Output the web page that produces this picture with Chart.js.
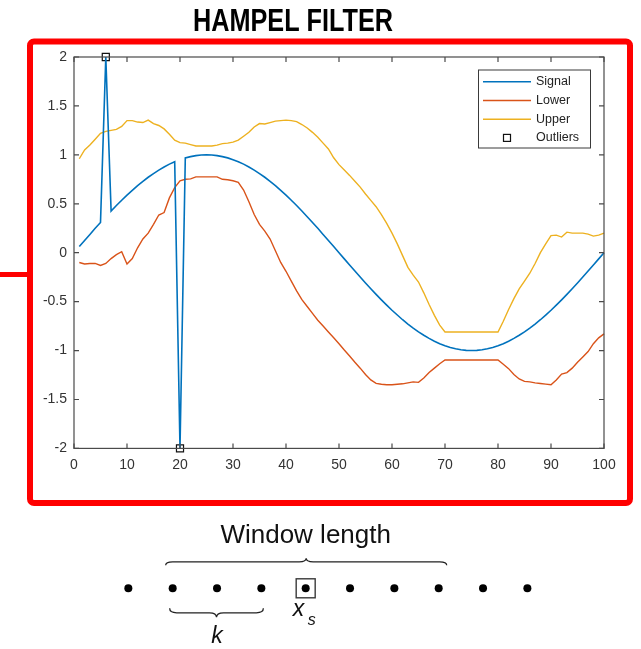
<!DOCTYPE html>
<html>
<head>
<meta charset="utf-8">
<script src="https://cdn.jsdelivr.net/npm/chart.js@4.4.1/dist/chart.umd.min.js"></script>
<style>
  html, body { margin: 0; padding: 0; background: #fff; }
  #wrap { position: relative; width: 641px; height: 649px; overflow: hidden; }
  #main { position: absolute; left: 0; top: 0; }
  #win { position: absolute; left: 0; top: 510px; }
</style>
</head>
<body>
<div id="wrap">
  <canvas id="main" width="641" height="510"></canvas>
  <canvas id="win" width="641" height="139"></canvas>
</div>
<script>
// ---- sample index and series ----
const sampleIdx = Array.from({ length: 100 }, (_, i) => i + 1);

const signal = [
  0.063, 0.125, 0.187, 0.249, 0.309, 2.000, 0.426, 0.482, 0.536, 0.588,
  0.637, 0.685, 0.729, 0.771, 0.809, 0.844, 0.876, 0.905, 0.930, -2.000,
  0.969, 0.982, 0.992, 0.998, 1.000, 0.998, 0.992, 0.982, 0.969, 0.951,
  0.930, 0.905, 0.876, 0.844, 0.809, 0.771, 0.729, 0.685, 0.637, 0.588,
  0.536, 0.482, 0.426, 0.368, 0.309, 0.249, 0.187, 0.125, 0.063, 0.000,
  -0.063, -0.125, -0.187, -0.249, -0.309, -0.368, -0.426, -0.482, -0.536, -0.588,
  -0.637, -0.685, -0.729, -0.771, -0.809, -0.844, -0.876, -0.905, -0.930, -0.951,
  -0.969, -0.982, -0.992, -0.998, -1.000, -0.998, -0.992, -0.982, -0.969, -0.951,
  -0.930, -0.905, -0.876, -0.844, -0.809, -0.771, -0.729, -0.685, -0.637, -0.588,
  -0.536, -0.482, -0.426, -0.368, -0.309, -0.249, -0.187, -0.125, -0.063, 0.000
];

const lower = [
  -0.100, -0.115, -0.110, -0.110, -0.130, -0.110, -0.060, -0.020, 0.010, -0.115,
  -0.060, 0.050, 0.140, 0.200, 0.290, 0.385, 0.410, 0.560, 0.665, 0.735,
  0.750, 0.755, 0.775, 0.775, 0.775, 0.775, 0.775, 0.750, 0.745, 0.735,
  0.720, 0.640, 0.520, 0.390, 0.290, 0.220, 0.140, 0.020, -0.100, -0.190,
  -0.290, -0.390, -0.480, -0.550, -0.620, -0.690, -0.750, -0.810, -0.870, -0.930,
  -0.995, -1.055, -1.120, -1.180, -1.245, -1.300, -1.335, -1.345, -1.350, -1.350,
  -1.345, -1.340, -1.330, -1.320, -1.325, -1.280, -1.225, -1.180, -1.135, -1.097,
  -1.097, -1.097, -1.097, -1.097, -1.097, -1.097, -1.097, -1.097, -1.097, -1.097,
  -1.140, -1.185, -1.245, -1.290, -1.315, -1.320, -1.330, -1.337, -1.343, -1.350,
  -1.300, -1.240, -1.225, -1.180, -1.120, -1.065, -1.010, -0.930, -0.870, -0.830
];

const upper = [
  0.960, 1.050, 1.100, 1.160, 1.220, 1.240, 1.250, 1.260, 1.290, 1.350,
  1.350, 1.335, 1.330, 1.355, 1.320, 1.300, 1.265, 1.210, 1.150, 1.125,
  1.120, 1.105, 1.090, 1.090, 1.090, 1.090, 1.100, 1.115, 1.120, 1.130,
  1.150, 1.190, 1.230, 1.285, 1.320, 1.315, 1.330, 1.345, 1.350, 1.355,
  1.350, 1.340, 1.310, 1.275, 1.230, 1.180, 1.120, 1.060, 0.970, 0.900,
  0.845, 0.790, 0.730, 0.670, 0.600, 0.535, 0.470, 0.390, 0.300, 0.200,
  0.090, -0.030, -0.150, -0.230, -0.300, -0.410, -0.530, -0.640, -0.740, -0.810,
  -0.810, -0.810, -0.810, -0.810, -0.810, -0.810, -0.810, -0.810, -0.810, -0.810,
  -0.700, -0.580, -0.470, -0.370, -0.290, -0.210, -0.110, 0.000, 0.090, 0.175,
  0.180, 0.160, 0.210, 0.200, 0.200, 0.200, 0.190, 0.170, 0.180, 0.200
];

const outlierIdx = [6, 20];
const outlierVal = [2, -2];

const xTicks = [0, 10, 20, 30, 40, 50, 60, 70, 80, 90, 100];
const yTicks = [-2, -1.5, -1, -0.5, 0, 0.5, 1, 1.5, 2];
const seriesNames = ['Signal', 'Lower', 'Upper', 'Outliers'];
const titleText = 'HAMPEL FILTER';

// ---- window schematic ----
const windowDots = [1, 2, 3, 4, 5, 6, 7, 8, 9, 10];
const windowSpan = [2, 8];   // samples covered by the window
const kSpan = [2, 4];        // the k samples left of x_s
const centreSample = 5;
const windowLabel = 'Window length';
const kLabel = 'k';

const toXY = (xs, ys) => xs.map((v, i) => ({ x: v, y: ys[i] }));

const AXIS_COL = '#4a4a4a';
const TEXT_COL = '#333333';
const FONT = '"Liberation Sans", Arial, Helvetica, sans-serif';

// box, inward ticks on all four sides
const frameTicks = {
  id: 'frameTicks',
  afterDatasetsDraw(chart) {
    const { ctx, chartArea: a, scales: { x, y } } = chart;
    const len = 5;
    ctx.save();
    ctx.strokeStyle = AXIS_COL;
    ctx.lineWidth = 1.2;
    ctx.strokeRect(a.left, a.top, a.right - a.left, a.bottom - a.top);
    ctx.beginPath();
    x.ticks.forEach(t => {
      const p = x.getPixelForValue(t.value);
      ctx.moveTo(p, a.bottom); ctx.lineTo(p, a.bottom - len);
      ctx.moveTo(p, a.top); ctx.lineTo(p, a.top + len);
    });
    y.ticks.forEach(t => {
      const p = y.getPixelForValue(t.value);
      ctx.moveTo(a.left, p); ctx.lineTo(a.left + len, p);
      ctx.moveTo(a.right, p); ctx.lineTo(a.right - len, p);
    });
    ctx.stroke();
    ctx.restore();
  }
};

// boxed legend in the upper right of the axes
const boxLegend = {
  id: 'boxLegend',
  afterDraw(chart, args, o) {
    const ctx = chart.ctx;
    ctx.save();
    ctx.fillStyle = '#fff';
    ctx.fillRect(o.left, o.top, o.width, o.height);
    ctx.strokeStyle = '#3a3a3a';
    ctx.lineWidth = 1;
    ctx.strokeRect(o.left + 0.5, o.top + 0.5, o.width, o.height);
    ctx.font = '12.5px ' + FONT;
    ctx.textBaseline = 'middle';
    ctx.textAlign = 'left';
    chart.data.datasets.forEach((ds, i) => {
      const yy = o.top + o.firstRow + i * o.rowGap;
      const x0 = o.left + o.sampleInset;
      const x1 = x0 + o.sampleLen;
      if (ds.showLine === false) {
        const s = 7;
        ctx.strokeStyle = ds.pointBorderColor;
        ctx.lineWidth = 1.2;
        ctx.strokeRect((x0 + x1) / 2 - s / 2, yy - s / 2, s, s);
      } else {
        ctx.strokeStyle = ds.borderColor;
        ctx.lineWidth = 1.5;
        ctx.beginPath(); ctx.moveTo(x0, yy); ctx.lineTo(x1, yy); ctx.stroke();
      }
      ctx.fillStyle = '#222';
      ctx.fillText(ds.label, x1 + o.textGap, yy);
    });
    ctx.restore();
  }
};

// heading and red frame around the figure
const decor = {
  id: 'decor',
  afterDraw(chart, args, o) {
    const ctx = chart.ctx;
    ctx.save();
    // title, condensed to the set width
    ctx.font = 'bold 32px ' + FONT;
    ctx.fillStyle = '#000';
    ctx.textBaseline = 'alphabetic';
    ctx.textAlign = 'center';
    const w = ctx.measureText(o.title).width;
    const sx = o.titleWidth / w;
    ctx.translate(o.titleX, o.titleY);
    ctx.scale(sx, 1);
    ctx.fillText(o.title, 0, 0);
    ctx.restore();

    ctx.save();
    ctx.strokeStyle = '#ff0000';
    ctx.lineWidth = 6;
    ctx.lineJoin = 'round';
    ctx.beginPath();
    ctx.roundRect(30, 41.5, 600, 461.5, 4);
    ctx.stroke();
    ctx.lineWidth = 5;
    ctx.beginPath();
    ctx.moveTo(0, 274.5); ctx.lineTo(30, 274.5);
    ctx.stroke();
    ctx.restore();
  }
};

// plain number labels: 2, 1.5, 1, ... (no forced decimals)
const plainLabel = v => String(Math.round(v * 100) / 100);

new Chart(document.getElementById('main'), {
  type: 'scatter',
  data: {
    datasets: [
      {
        label: seriesNames[0], data: toXY(sampleIdx, signal), showLine: true,
        borderColor: '#0072BD', borderWidth: 1.6, pointRadius: 0, tension: 0, clip: false
      },
      {
        label: seriesNames[1], data: toXY(sampleIdx, lower), showLine: true,
        borderColor: '#D95319', borderWidth: 1.4, pointRadius: 0, tension: 0, clip: false
      },
      {
        label: seriesNames[2], data: toXY(sampleIdx, upper), showLine: true,
        borderColor: '#EDB120', borderWidth: 1.4, pointRadius: 0, tension: 0, clip: false
      },
      {
        label: seriesNames[3], data: toXY(outlierIdx, outlierVal), showLine: false,
        pointStyle: 'rect', pointRadius: 5, pointBorderWidth: 1.2,
        pointBorderColor: '#111', pointBackgroundColor: 'rgba(0,0,0,0)', clip: false
      }
    ]
  },
  options: {
    responsive: false,
    animation: false,
    devicePixelRatio: 1,
    layout: { padding: { left: 0, right: 37, top: 57, bottom: 31.6 } },
    plugins: {
      legend: { display: false },
      tooltip: { enabled: false },
      boxLegend: {
        left: 478, top: 69.5, width: 112, height: 78,
        firstRow: 12.3, rowGap: 18.7, sampleInset: 5, sampleLen: 48, textGap: 5
      },
      decor: { title: titleText, titleX: 293, titleY: 31, titleWidth: 200 }
    },
    scales: {
      x: {
        type: 'linear', min: 0, max: 100,
        afterBuildTicks: s => { s.ticks = xTicks.map(v => ({ value: v })); },
        afterFit: s => { s.height = 30; },
        grid: { display: false, drawTicks: false },
        border: { display: false },
        ticks: { color: TEXT_COL, font: { size: 14, family: FONT }, padding: 8, maxRotation: 0, callback: plainLabel }
      },
      y: {
        type: 'linear', min: -2, max: 2,
        afterBuildTicks: s => { s.ticks = yTicks.map(v => ({ value: v })); },
        afterFit: s => { s.width = 74; },
        grid: { display: false, drawTicks: false },
        border: { display: false },
        ticks: { color: TEXT_COL, font: { size: 14, family: FONT }, padding: 7, callback: plainLabel }
      }
    }
  },
  plugins: [frameTicks, boxLegend, decor]
});

// ---- sliding-window schematic ----
function brace(ctx, x1, x2, y0, h, dir, r) {
  const xm = (x1 + x2) / 2;
  const yb = y0 + dir * h / 2;
  const yc = y0 + dir * h;
  ctx.beginPath();
  ctx.moveTo(x1, y0);
  ctx.quadraticCurveTo(x1, yb, x1 + r, yb);
  ctx.lineTo(xm - r, yb);
  ctx.quadraticCurveTo(xm, yb, xm, yc);
  ctx.quadraticCurveTo(xm, yb, xm + r, yb);
  ctx.lineTo(x2 - r, yb);
  ctx.quadraticCurveTo(x2, yb, x2, y0);
  ctx.stroke();
}

const windowMarks = {
  id: 'windowMarks',
  afterDatasetsDraw(chart) {
    const { ctx, scales: { x, y } } = chart;
    const py = y.getPixelForValue(0);
    const px = v => x.getPixelForValue(v);
    ctx.save();
    ctx.strokeStyle = '#222';
    ctx.fillStyle = '#111';
    ctx.lineWidth = 1.3;

    // window brace above, k brace below
    brace(ctx, px(windowSpan[0]) - 7, px(windowSpan[1]) + 8, py - 23, 7, -1, 7);
    brace(ctx, px(kSpan[0]) - 3, px(kSpan[1]) + 2, py + 20, 9, 1, 7);

    // box round the centre sample
    ctx.strokeStyle = '#3a3a3a';
    ctx.lineWidth = 1.4;
    ctx.strokeRect(px(centreSample) - 9.5, py - 9.5, 19, 19);

    ctx.textAlign = 'center';
    ctx.textBaseline = 'alphabetic';
    ctx.font = '26px ' + FONT;
    ctx.fillText(windowLabel, px(centreSample), py - 45);

    ctx.font = 'italic 23px ' + FONT;
    ctx.fillText(kLabel, px((kSpan[0] + kSpan[1]) / 2), py + 55);

    ctx.textAlign = 'left';
    ctx.fillText('x', px(centreSample) - 13, py + 28);
    ctx.font = 'italic 16px ' + FONT;
    ctx.fillText('s', px(centreSample) + 2, py + 37);
    ctx.restore();
  }
};

new Chart(document.getElementById('win'), {
  type: 'scatter',
  data: {
    datasets: [{
      data: windowDots.map(v => ({ x: v, y: 0 })),
      pointRadius: 4, pointBackgroundColor: '#000', pointBorderWidth: 0, clip: false
    }]
  },
  options: {
    responsive: false,
    animation: false,
    devicePixelRatio: 1,
    layout: { padding: { left: 84, right: 69.3, top: 58.3, bottom: 40.7 } },
    plugins: { legend: { display: false }, tooltip: { enabled: false } },
    scales: {
      x: { type: 'linear', min: 0, max: 11, display: false },
      y: { type: 'linear', min: -1, max: 1, display: false }
    }
  },
  plugins: [windowMarks]
});
</script>
</body>
</html>
